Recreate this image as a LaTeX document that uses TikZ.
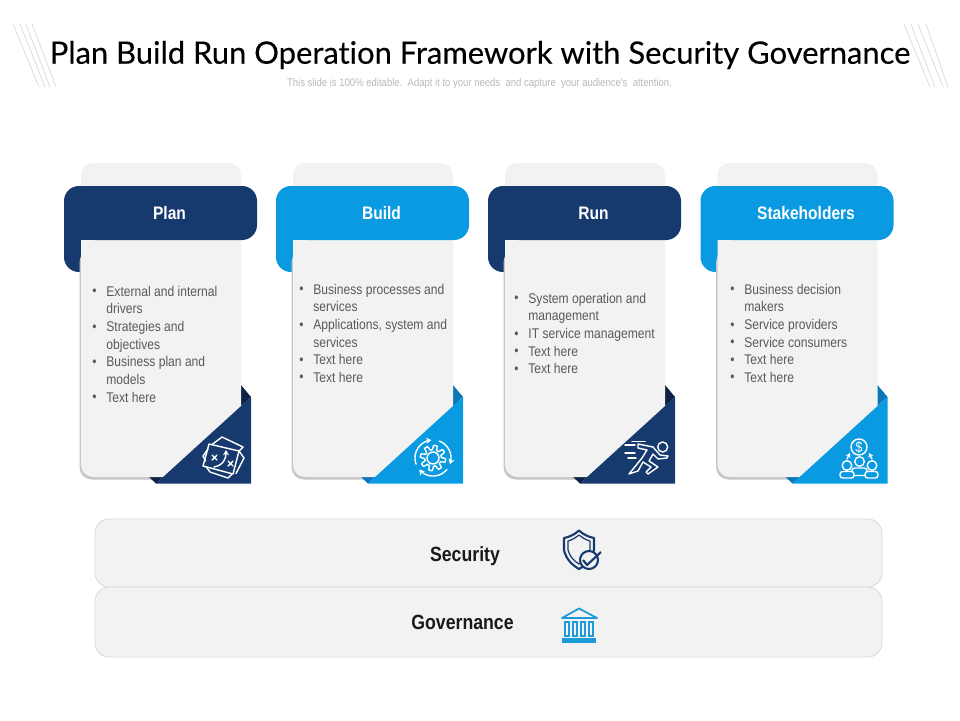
\documentclass[tikz,border=0pt]{standalone}
\usepackage{fontspec}
\setmainfont[Ligatures=NoCommon,FakeBold=0.25]{Lato}
\newfontfamily\narrowfont[FakeStretch=0.86]{Liberation Sans}
\usetikzlibrary{arrows.meta,positioning}
\definecolor{navy}{HTML}{173A6E}
\definecolor{navyfold}{HTML}{0D2244}
\definecolor{skyblue}{HTML}{0A9AE2}
\definecolor{skyfold}{HTML}{0B78B6}
\definecolor{panel}{HTML}{F2F2F2}
\definecolor{govblue}{HTML}{1C9BD8}
\newcommand{\bul}{\makebox[8pt][l]{\raisebox{.3pt}{\textbullet}}}
\newcommand{\cnt}{\hspace*{8pt}}
\tikzset{
    title text/.style={font=\fontsize{17.6}{20}\selectfont,text=black,inner sep=0pt},
    sub text/.style={font=\narrowfont\fontsize{6.3}{8}\selectfont,text=gray!55,inner sep=0pt},
    head text/.style={font=\narrowfont\bfseries\fontsize{10.3}{12}\selectfont,text=white,inner sep=0pt},
    list text/.style={font=\narrowfont\fontsize{8}{10.03}\selectfont,text=black!65,align=left,anchor=north west,inner sep=0pt},
    bar text/.style={font=\narrowfont\bfseries\fontsize{11.7}{13}\selectfont,text=black!90,inner sep=0pt},
    hatch/.style={black!15,line width=.4pt},
    bar/.style={fill=panel,draw=black!14,line width=.5pt,rounded corners=8pt},
    icon line/.style={white,line width=.8pt,line join=round,line cap=round},
    shield line/.style={navy,line width=1.2pt,line join=round},
    gov line/.style={govblue,line width=1pt},
}
\begin{document}
\begin{tikzpicture}[x=0.02cm,y=-0.02cm]
    \useasboundingbox[fill=white] (0,0) rectangle (960,720);

    % corner hatching
    \foreach \ax/\bx in {13/39,20/45,26/50,32/56,904/930,911/935,918/943,926/948}{
        \draw[hatch] (\ax,24) -- (\bx,87);
    }

    \node[title text] (title) at (480,55) {Plan Build Run Operation Framework with Security Governance};
    \node[sub text] (subtitle) at (479.5,83.5) {This slide is 100\% editable.\ \ Adapt it to your needs\ \ and capture\ \ your audience's\ \ attention.};

    % cards
    \foreach \cardx/\cardcol/\cardfold/\cardname/\cardtitle in {0/navy/navyfold/plan/Plan,212/skyblue/skyfold/build/Build,424/navy/navyfold/run/Run,636.5/skyblue/skyfold/stake/Stakeholders}{
        \begin{scope}[shift={(\cardx,0)}]
            \fill[\cardcol,rounded corners=8.5pt] (64,186) rectangle (110,272);
            \fill[black!22,rounded corners=7pt] (79.5,250) rectangle (238,479.5);
            \fill[\cardfold] (241,385) -- (251,397) -- (156,483.5) -- (149,477) -- cycle;
            \fill[panel,rounded corners=7pt] (81,163) rectangle (241,477);
            \fill[\cardcol] (251,397) -- (251,483.5) -- (156,483.5) -- cycle;
            \fill[\cardcol,rounded corners=8.5pt] (80,186) -- (257,186) -- (257,240) -- (80,240) -- cycle;
            \fill[\cardcol] (80,186) rectangle (95,240);
            \node[head text] (\cardname head) at (169.5,213) {\cardtitle};
        \end{scope}
    }

    % lists
    \node[list text] (plan list) at (92,285.8) {\bul External and internal\\\cnt drivers\\\bul Strategies and\\\cnt objectives\\\bul Business plan and\\\cnt models\\\bul Text here};
    \node[list text] (build list) at (299,283.8) {\bul Business processes and\\\cnt services\\\bul Applications, system and\\\cnt services\\\bul Text here\\\bul Text here};
    \node[list text] (run list) at (514,292.8) {\bul System operation and\\\cnt management\\\bul IT service management\\\bul Text here\\\bul Text here};
    \node[list text] (stake list) at (730,283.8) {\bul Business decision\\\cnt makers\\\bul Service providers\\\bul Service consumers\\\bul Text here\\\bul Text here};

    % plan icon
    \draw[icon line] (209,444) -- (239,451) -- (233,474) -- (203,466) -- cycle;
    \draw[icon line] (212,444.5) -- (222,437) -- (243,447) -- (239,451);
    \draw[icon line] (239,451) -- (244,458) -- (236,473.5);
    \draw[icon line] (206,466.5) -- (210,472) -- (228,478) -- (232,474);
    \draw[icon line] (208,449) -- (203,456) -- (205.5,461);
    \draw[icon line] (212,455) -- (217,460) (217,455) -- (212,460);
    \draw[icon line] (228,461) -- (233,466) (233,461) -- (228,466);
    \draw[icon line,-{Stealth[length=3pt,width=3.5pt]}] (214,467) .. controls (224,465) and (226,458) .. (226,450);

    % build icon
    \draw[icon line] (433,458) circle (6);
    \draw[icon line] plot[domain=0:360,samples=97] ({433+(10.5+2.2*sign(sin(8*\x)))*cos(\x)},{458+(10.5+2.2*sign(sin(8*\x)))*sin(\x)});
    \foreach \arcfrom/\arcto in {-70/20,40/140,160/265}{
        \draw[icon line,-{Stealth[length=3pt,width=3.5pt]}] plot[domain=\arcfrom:\arcto,samples=20] ({433+18*cos(\x)},{458+18*sin(\x)});
    }

    % run icon
    \draw[icon line] (662.7,447) circle (5);
    \draw[icon line] (638,444) -- (653,447) -- (660,455) -- (668,456) -- (667,458) -- (658,459) -- (653,454) -- (649,461) -- (658,467) -- (648,474) -- (646,472) -- (651,467) -- (643,462) -- (638,471) -- (629,474) -- (642,458) -- (647,450) -- (638,448) -- cycle;
    \draw[icon line] (625,445) -- (635,445) (632,441.5) -- (645,441.5) (625,453) -- (635,453) (628,458) -- (636,458);

    % stakeholders icon
    \draw[icon line] (859,447) circle (8);
    \node[font=\narrowfont\fontsize{8.5}{9}\selectfont,text=white,inner sep=0pt] (dollar) at (859,447) {\$};
    \draw[icon line,-{Stealth[length=2.5pt,width=3pt]}] (847,459) -- (850,453);
    \draw[icon line,-{Stealth[length=2.5pt,width=3pt]}] (872,459) -- (869,453);
    \draw[icon line] (859.5,461.5) circle (4.8) (847,465.5) circle (4.8) (872,465.5) circle (4.8);
    \draw[icon line,rounded corners=1.5pt] (840,478) -- (840,471.5) -- (854,471.5) -- (854,478) -- cycle;
    \draw[icon line,rounded corners=1.5pt] (865,478) -- (865,471.5) -- (878,471.5) -- (878,478) -- cycle;
    \draw[icon line,rounded corners=1.5pt] (854,475.5) -- (865,475.5) (852,471.5) -- (852,468) -- (867,468) -- (867,471.5);

    % bars
    \draw[bar] (95,519) rectangle (882,587);
    \draw[bar] (95,587) rectangle (882,657);
    \node[bar text] (security) at (465,556) {Security};
    \node[bar text] (governance) at (462.5,622.5) {Governance};

    % security icon
    \draw[shield line] (579,530.5) .. controls (584,535) and (589,537) .. (594,538) -- (594,550) .. controls (592,559) and (586,565) .. (579,569) .. controls (572,565) and (566,559) .. (564,550) -- (564,538) .. controls (569,537) and (574,535) .. (579,530.5) -- cycle;
    \draw[shield line,line width=.7pt] (579,535) .. controls (583,538) and (586,540) .. (590,541) -- (590,550) .. controls (588,557) and (584,561) .. (579,564) .. controls (574,561) and (570,557) .. (568,550) -- (568,541) .. controls (572,540) and (575,538) .. (579,535) -- cycle;
    \draw[shield line,fill=panel] (589,560) circle (9);
    \draw[shield line,line width=1.2pt] (583,560) -- (587,565) -- (601,552);

    % governance icon
    \draw[gov line,line join=round] (579,608.5) -- (562,618) -- (597,618) -- cycle;
    \foreach \colx in {567,575,583,591}{
        \draw[gov line] (\colx-2,622) rectangle (\colx+2,636);
    }
    \fill[govblue] (562,638) rectangle (596,643);
\end{tikzpicture}
\end{document}
